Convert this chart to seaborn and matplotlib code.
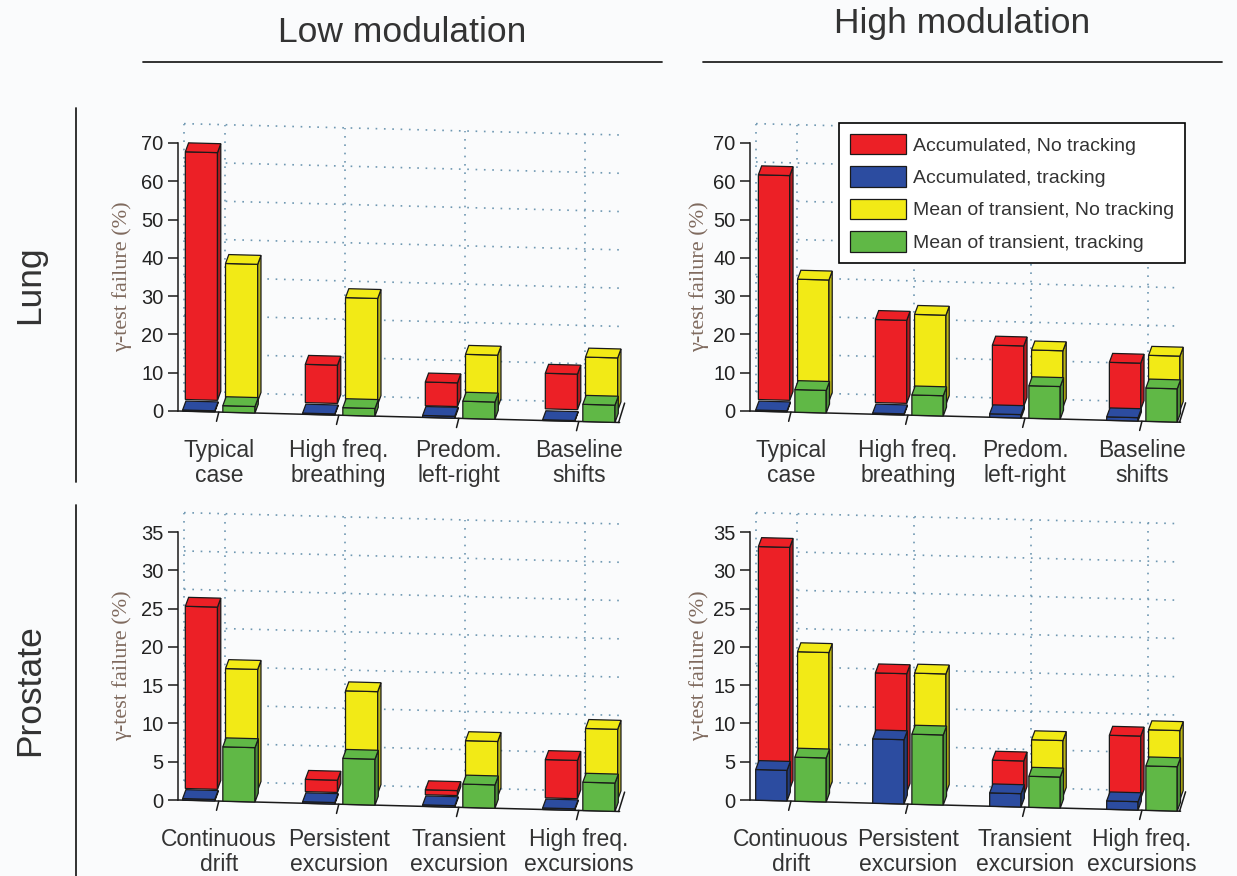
import numpy as np
import pandas as pd
import matplotlib
matplotlib.use("Agg")
import matplotlib.pyplot as plt
import seaborn as sns
from matplotlib.patches import Polygon, Patch
from matplotlib.lines import Line2D
from matplotlib.transforms import Affine2D
from matplotlib.colors import to_rgb

lung_cases = ["Typical\ncase", "High freq.\nbreathing", "Predom.\nleft-right", "Baseline\nshifts"]
prostate_cases = ["Continuous\ndrift", "Persistent\nexcursion", "Transient\nexcursion", "High freq.\nexcursions"]
series_names = ["Accumulated, No tracking", "Accumulated, tracking",
                "Mean of transient, No tracking", "Mean of transient, tracking"]

# lung, low modulation
lung_low_acc_notrack = [64.7, 10.0, 6.2, 9.3]
lung_low_acc_track = [0.3, 0.3, 0.5, 0.2]
lung_low_mean_notrack = [35.8, 27.7, 13.7, 13.8]
lung_low_mean_track = [1.7, 2.0, 4.5, 4.5]

# lung, high modulation
lung_high_acc_notrack = [58.7, 21.7, 15.8, 12.1]
lung_high_acc_track = [0.3, 0.3, 0.9, 0.9]
lung_high_mean_notrack = [31.7, 23.3, 14.8, 14.2]
lung_high_mean_track = [5.9, 5.3, 8.5, 8.7]

# prostate, low modulation
prost_low_acc_notrack = [23.8, 1.6, 0.65, 5.0]
prost_low_acc_track = [0.2, 0.2, 0.2, 0.2]
prost_low_mean_notrack = [15.8, 13.3, 7.2, 9.2]
prost_low_mean_track = [7.1, 6.0, 3.05, 3.7]

# prostate, high modulation
prost_high_acc_notrack = [31.6, 15.5, 4.5, 8.15]
prost_high_acc_track = [4.0, 8.4, 1.75, 1.1]
prost_high_mean_notrack = [18.0, 15.6, 7.3, 9.0]
prost_high_mean_track = [5.75, 9.15, 4.05, 5.8]

RED, BLUE, YELLOW, GREEN = "#ec2026", "#2c4ca0", "#f2ea16", "#60b846"
EDGE = "#1a1a1a"
GRID = "#6f98b2"
TXT = "#333333"

W, H = 1237, 876
sns.set_style("white")
plt.rcParams["font.family"] = ["Liberation Sans", "DejaVu Sans"]

fig = plt.figure(figsize=(W / 100, H / 100), dpi=100)
fig.patch.set_facecolor("#fafbfc")


def darker(c, f=0.78):
    r, g, b = to_rgb(c)
    return (r * f, g * f, b * f)


def add_faces(ax, p, tr, ddx, ddy, z):
    x0, y0, w, h = p.get_x(), p.get_y(), p.get_width(), p.get_height()
    fc = p.get_facecolor()
    top = Polygon([(x0, y0 + h), (x0 + w, y0 + h), (x0 + w + ddx, y0 + h + ddy), (x0 + ddx, y0 + h + ddy)],
                  closed=True, fc=fc, ec=EDGE, lw=0.9, transform=tr, zorder=z, clip_on=False)
    side = Polygon([(x0 + w, y0), (x0 + w + ddx, y0 + ddy), (x0 + w + ddx, y0 + h + ddy), (x0 + w, y0 + h)],
                   closed=True, fc=darker(fc), ec=EDGE, lw=0.9, transform=tr, zorder=z, clip_on=False)
    ax.add_patch(side)
    ax.add_patch(top)


def panel(left_px, top_px, xlim, ymax, cases, back_l, front_l, back_r, front_r):
    x_min, x_max = xlim
    w_px = (x_max - x_min) * (120 if left_px < 500 else 117)
    h_px = 268
    ax = fig.add_axes([left_px / W, 1 - (top_px + h_px) / H, w_px / W, h_px / H])
    ax.patch.set_visible(False)
    px_x = w_px / (x_max - x_min)
    px_y = h_px / ymax
    ux = lambda v: v / px_x
    uy = lambda v: v / px_y
    k = 0.026 * px_x / px_y
    tr = Affine2D(np.array([[1, 0, 0], [-k, 1, k * x_min], [0, 0, 1]], float)) + ax.transData

    # back wall dotted grid
    wdx, wdy = ux(6), uy(19.5)
    for v in np.linspace(0, ymax, 8):
        ax.plot([x_min + wdx, x_max], [v + wdy, v + wdy], transform=tr, color=GRID,
                ls=(0, (1, 4)), lw=1.2, clip_on=False, zorder=1)
    for xv in [x_min] + list(range(len(cases))):
        ax.plot([xv + wdx, xv + wdx], [wdy, ymax + wdy], transform=tr, color=GRID,
                ls=(0, (1, 4)), lw=1.2, clip_on=False, zorder=1)

    # floor front edge, right edge and slanted ticks
    ax.plot([x_min, x_max], [0, 0], transform=tr, color=EDGE, lw=1.1, clip_on=False, zorder=1.5)
    ax.plot([x_max - ux(1), x_max + ux(5)], [0, wdy], transform=tr, color=EDGE, lw=1.1, clip_on=False, zorder=1.5)
    for i in range(len(cases)):
        ax.plot([i, i - ux(2.3)], [0, -uy(9.3)], transform=tr, color=EDGE, lw=1.1, clip_on=False, zorder=1.5)

    ddx, ddy = ux(3.3), uy(9)
    back = pd.DataFrame({"case": cases * 2, "value": back_l + back_r, "col": ["a"] * 4 + ["b"] * 4})
    front = pd.DataFrame({"case": cases * 2, "value": front_l + front_r, "col": ["a"] * 4 + ["b"] * 4})

    n0 = len(ax.patches)
    sns.barplot(data=back, x="case", y="value", hue="col", order=cases, palette=[RED, YELLOW],
                width=0.67, gap=0.2, saturation=1, errorbar=None, legend=False, ax=ax,
                edgecolor=EDGE, linewidth=0.9, zorder=2)
    back_bars = list(ax.patches[n0:])
    for p in back_bars:
        p.set_x(p.get_x() + ux(2.7))
        p.set_y(p.get_y() + uy(11.7))
        p.set_transform(tr)
        p.set_clip_on(False)
    for p in back_bars:
        add_faces(ax, p, tr, ddx, ddy, 2)

    n1 = len(ax.patches)
    sns.barplot(data=front, x="case", y="value", hue="col", order=cases, palette=[BLUE, GREEN],
                width=0.67, gap=0.2, saturation=1, errorbar=None, legend=False, ax=ax,
                edgecolor=EDGE, linewidth=0.9, zorder=3)
    front_bars = [p for p in ax.patches[n1:]]
    for p in front_bars:
        p.set_transform(tr)
        p.set_clip_on(False)
    for p in front_bars:
        add_faces(ax, p, tr, ddx, ddy, 3)

    ax.set_xlim(x_min, x_max)
    ax.set_ylim(0, ymax)
    ax.set_xlabel("")
    ax.set_ylabel("")
    ax.set_yticks(np.linspace(0, ymax, 8))
    ax.set_yticklabels([f"{v:g}" for v in np.linspace(0, ymax, 8)])
    for s in ["top", "right", "bottom"]:
        ax.spines[s].set_visible(False)
    ax.spines["left"].set_bounds(0, ymax)
    ax.spines["left"].set_color(EDGE)
    ax.spines["left"].set_linewidth(1.1)
    ax.tick_params(axis="y", direction="out", length=7.5, width=1.1, color=EDGE,
                   labelsize=14.5, labelcolor="#222222", pad=3, left=True)
    ax.tick_params(axis="x", length=0, pad=20, labelsize=16.5, labelcolor=TXT)
    for t in ax.get_xticklabels():
        t.set_linespacing(1.1)
    return ax


ax_tl = panel(178, 143, (-0.34, 3.34), 70, lung_cases,
              lung_low_acc_notrack, lung_low_acc_track, lung_low_mean_notrack, lung_low_mean_track)
ax_tr = panel(750, 143, (-0.35, 3.33), 70, lung_cases,
              lung_high_acc_notrack, lung_high_acc_track, lung_high_mean_notrack, lung_high_mean_track)
ax_bl = panel(178, 532, (-0.34, 3.34), 35, prostate_cases,
              prost_low_acc_notrack, prost_low_acc_track, prost_low_mean_notrack, prost_low_mean_track)
ax_br = panel(750, 532, (-0.35, 3.33), 35, prostate_cases,
              prost_high_acc_notrack, prost_high_acc_track, prost_high_mean_notrack, prost_high_mean_track)

# y labels
for xpx, ypx in [(122, 277), (699, 277), (122, 666), (699, 666)]:
    fig.text(xpx / W, 1 - ypx / H, "γ-test failure (%)", rotation=90, ha="center", va="center",
             fontsize=16, color="#7f6a5e", family=["Liberation Serif", "DejaVu Serif"])

# column titles and rules
fig.text(402 / W, 1 - 32 / H, "Low modulation", ha="center", va="center", fontsize=25.5, color=TXT)
fig.text(962 / W, 1 - 23 / H, "High modulation", ha="center", va="center", fontsize=25.5, color=TXT)
fig.add_artist(Line2D([143 / W, 662 / W], [1 - 62 / H] * 2, color="#222222", lw=1.3))
fig.add_artist(Line2D([703 / W, 1222 / W], [1 - 62 / H] * 2, color="#222222", lw=1.3))

# row titles and rules
fig.text(30 / W, 1 - 285 / H, "Lung", rotation=90, ha="center", va="center", fontsize=25.5, color=TXT)
fig.text(30 / W, 1 - 690 / H, "Prostate", rotation=90, ha="center", va="center", fontsize=25.5, color=TXT)
fig.add_artist(Line2D([76 / W] * 2, [1 - 108 / H, 1 - 482 / H], color="#222222", lw=1.3))
fig.add_artist(Line2D([76 / W] * 2, [1 - 505 / H, 1 - 876 / H], color="#222222", lw=1.3))

# legend
handles = [Patch(facecolor=c, edgecolor=EDGE, linewidth=0.9) for c in [RED, BLUE, YELLOW, GREEN]]
leg = ax_tr.legend(handles, series_names, loc="upper left", bbox_to_anchor=(839 / W, 1 - 123 / H),
                   bbox_transform=fig.transFigure, fontsize=14, frameon=True, fancybox=False,
                   edgecolor="black", framealpha=1, handlelength=2.9, handleheight=1.25,
                   labelspacing=0.6, handletextpad=0.35, borderpad=0.55, borderaxespad=0)
leg.get_frame().set_linewidth(1.2)
for t in leg.get_texts():
    t.set_color(TXT)
leg.set_zorder(10)

fig.savefig("out.png", dpi=100, facecolor=fig.get_facecolor())
